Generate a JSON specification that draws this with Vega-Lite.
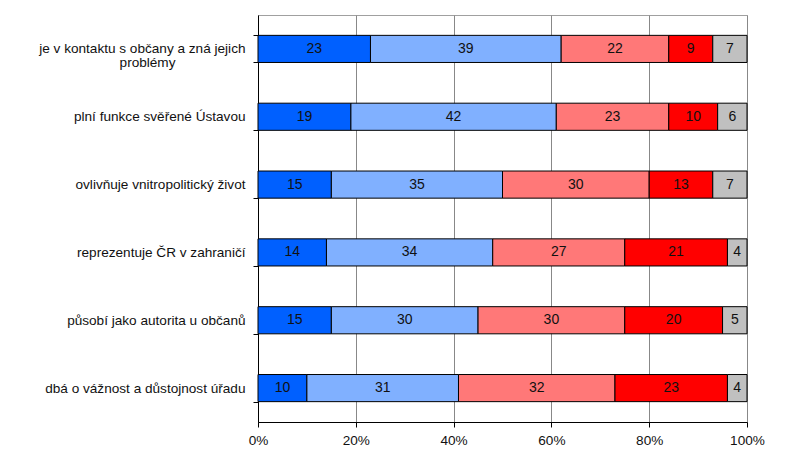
{
  "$schema": "https://vega.github.io/schema/vega-lite/v6.json",
  "width": 489,
  "height": 407,
  "autosize": {"type": "none"},
  "padding": {"left": 258, "top": 15, "right": 53, "bottom": 27},
  "background": "white",
  "config": {
    "font": "Liberation Sans",
    "view": {"stroke": "#a0a0a0", "strokeWidth": 1}
  },
  "data": {
    "values": [
      {"cat": "je v kontaktu s občany a zná jejich problémy", "resp": "a", "order": 1, "value": 23},
      {"cat": "je v kontaktu s občany a zná jejich problémy", "resp": "b", "order": 2, "value": 39},
      {"cat": "je v kontaktu s občany a zná jejich problémy", "resp": "c", "order": 3, "value": 22},
      {"cat": "je v kontaktu s občany a zná jejich problémy", "resp": "d", "order": 4, "value": 9},
      {"cat": "je v kontaktu s občany a zná jejich problémy", "resp": "e", "order": 5, "value": 7},
      {"cat": "plní funkce svěřené Ústavou", "resp": "a", "order": 1, "value": 19},
      {"cat": "plní funkce svěřené Ústavou", "resp": "b", "order": 2, "value": 42},
      {"cat": "plní funkce svěřené Ústavou", "resp": "c", "order": 3, "value": 23},
      {"cat": "plní funkce svěřené Ústavou", "resp": "d", "order": 4, "value": 10},
      {"cat": "plní funkce svěřené Ústavou", "resp": "e", "order": 5, "value": 6},
      {"cat": "ovlivňuje vnitropolitický život", "resp": "a", "order": 1, "value": 15},
      {"cat": "ovlivňuje vnitropolitický život", "resp": "b", "order": 2, "value": 35},
      {"cat": "ovlivňuje vnitropolitický život", "resp": "c", "order": 3, "value": 30},
      {"cat": "ovlivňuje vnitropolitický život", "resp": "d", "order": 4, "value": 13},
      {"cat": "ovlivňuje vnitropolitický život", "resp": "e", "order": 5, "value": 7},
      {"cat": "reprezentuje ČR v zahraničí", "resp": "a", "order": 1, "value": 14},
      {"cat": "reprezentuje ČR v zahraničí", "resp": "b", "order": 2, "value": 34},
      {"cat": "reprezentuje ČR v zahraničí", "resp": "c", "order": 3, "value": 27},
      {"cat": "reprezentuje ČR v zahraničí", "resp": "d", "order": 4, "value": 21},
      {"cat": "reprezentuje ČR v zahraničí", "resp": "e", "order": 5, "value": 4},
      {"cat": "působí jako autorita u občanů", "resp": "a", "order": 1, "value": 15},
      {"cat": "působí jako autorita u občanů", "resp": "b", "order": 2, "value": 30},
      {"cat": "působí jako autorita u občanů", "resp": "c", "order": 3, "value": 30},
      {"cat": "působí jako autorita u občanů", "resp": "d", "order": 4, "value": 20},
      {"cat": "působí jako autorita u občanů", "resp": "e", "order": 5, "value": 5},
      {"cat": "dbá o vážnost a důstojnost úřadu", "resp": "a", "order": 1, "value": 10},
      {"cat": "dbá o vážnost a důstojnost úřadu", "resp": "b", "order": 2, "value": 31},
      {"cat": "dbá o vážnost a důstojnost úřadu", "resp": "c", "order": 3, "value": 32},
      {"cat": "dbá o vážnost a důstojnost úřadu", "resp": "d", "order": 4, "value": 23},
      {"cat": "dbá o vážnost a důstojnost úřadu", "resp": "e", "order": 5, "value": 4}
    ]
  },
  "transform": [
    {"stack": "value", "groupby": ["cat"], "sort": [{"field": "order", "order": "ascending"}], "as": ["x0", "x1"]},
    {"calculate": "(datum.x0 + datum.x1) / 2", "as": "mid"}
  ],
  "encoding": {
    "y": {
      "field": "cat",
      "type": "nominal",
      "sort": null,
      "title": null,
      "scale": {"paddingInner": 0.6, "paddingOuter": 0.3},
      "axis": {
        "domainColor": "black",
        "tickColor": "black",
        "tickBand": "extent",
        "tickSize": 5,
        "labelFontSize": 13.6,
        "labelColor": "#111111",
        "labelPadding": 8,
        "labelLimit": 300,
        "labelLineHeight": 13.5,
        "labelExpr": "datum.value == 'je v kontaktu s občany a zná jejich problémy' ? ['je v kontaktu s občany a zná jejich', 'problémy\u2800\u2800\u2800\u2800\u2800\u2800\u2800'] : datum.value"
      }
    }
  },
  "layer": [
    {
      "mark": {"type": "bar", "stroke": "black", "strokeWidth": 1},
      "encoding": {
        "x": {
          "field": "x0",
          "type": "quantitative",
          "scale": {"domain": [0, 100], "nice": false},
          "title": null,
          "axis": {
            "values": [0, 20, 40, 60, 80, 100],
            "labelExpr": "datum.value + '%'",
            "domainColor": "black",
            "tickColor": "black",
            "tickSize": 5,
            "gridColor": "#888888",
            "gridWidth": 1,
            "labelFontSize": 13.6,
            "labelColor": "#111111",
            "labelPadding": 6,
            "labelFlush": false
          }
        },
        "x2": {"field": "x1"},
        "color": {
          "field": "resp",
          "type": "nominal",
          "legend": null,
          "scale": {
            "domain": ["a", "b", "c", "d", "e"],
            "range": ["#0060ff", "#80b0ff", "#ff7878", "#ff0000", "#c0c0c0"]
          }
        }
      }
    },
    {
      "mark": {"type": "text", "fontSize": 14, "color": "#111111", "baseline": "middle"},
      "encoding": {
        "x": {"field": "mid", "type": "quantitative"},
        "text": {"field": "value", "type": "quantitative"}
      }
    }
  ]
}
